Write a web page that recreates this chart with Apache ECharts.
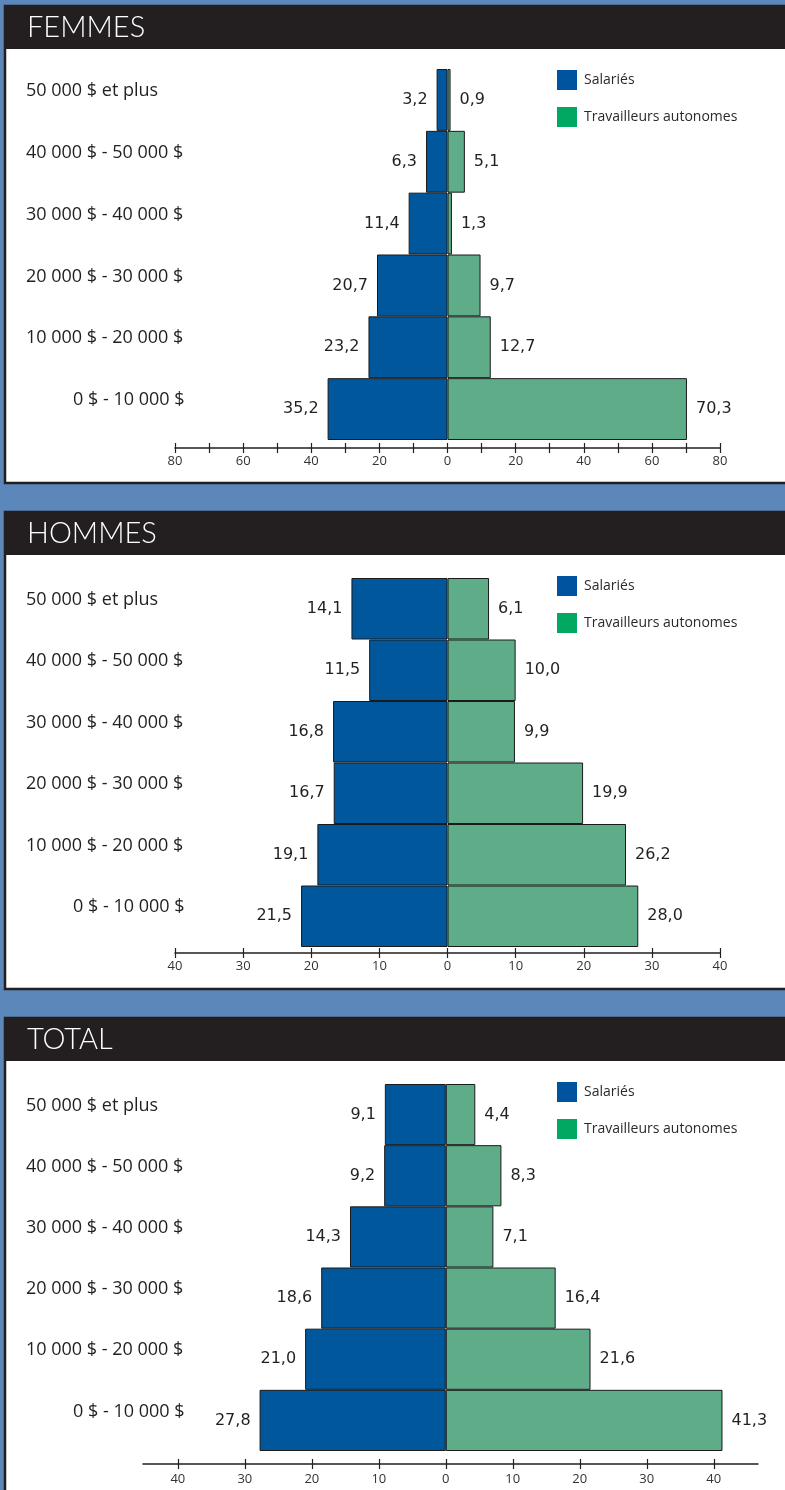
<!DOCTYPE html>
<html>
<head>
<meta charset="utf-8">
<script src="https://cdn.jsdelivr.net/npm/echarts@6/dist/echarts.min.js"></script>
<style>
  html, body { margin: 0; padding: 0; background: #5b87ba; }
  #chart { width: 785px; height: 1490px; }
</style>
</head>
<body>
<div id="chart"></div>
<script type="text/javascript">

    // tranches de revenu (de haut en bas)
    var categories = ['50 000 $ et plus', '40 000 $ - 50 000 $', '30 000 $ - 40 000 $',
                      '20 000 $ - 30 000 $', '10 000 $ - 20 000 $', '0 $ - 10 000 $'];
    var seriesNames = ['Salariés', 'Travailleurs autonomes'];
    var panelTitles = ['FEMMES', 'HOMMES', 'TOTAL'];

    // pourcentages
    var femmesSalaries  = [3.2, 6.3, 11.4, 20.7, 23.2, 35.2];
    var femmesAutonomes = [0.9, 5.1, 1.3, 9.7, 12.7, 70.3];
    var hommesSalaries  = [14.1, 11.5, 16.8, 16.7, 19.1, 21.5];
    var hommesAutonomes = [6.1, 10.0, 9.9, 19.9, 26.2, 28.0];
    var totalSalaries   = [9.1, 9.2, 14.3, 18.6, 21.0, 27.8];
    var totalAutonomes  = [4.4, 8.3, 7.1, 16.4, 21.6, 41.3];

    // graduations des axes
    var femmesTicks  = [-80, -70, -60, -50, -40, -30, -20, -10, 0, 10, 20, 30, 40, 50, 60, 70, 80];
    var femmesLabels = [-80, -60, -40, -20, 0, 20, 40, 60, 80];
    var hommesTicks  = [-40, -30, -20, -10, 0, 10, 20, 30, 40];
    var totalTicks   = [-40, -30, -20, -10, 0, 10, 20, 30, 40];

    var panels = [
        { top: 6,    sal: femmesSalaries, aut: femmesAutonomes, ticks: femmesTicks, labels: femmesLabels,
          min: -80, max: 80, left: 175, width: 545, gTop: 69, gH: 371, off: 8, lm: 7 },
        { top: 512,  sal: hommesSalaries, aut: hommesAutonomes, ticks: hommesTicks, labels: hommesTicks,
          min: -40, max: 40, left: 175, width: 545, gTop: 578, gH: 369, off: 6, lm: 7 },
        { top: 1018, sal: totalSalaries, aut: totalAutonomes, ticks: totalTicks, labels: totalTicks,
          min: -45.2, max: 46.6, left: 143, width: 615, gTop: 1084, gH: 367, off: 13, lm: 9 }
    ];

    var fmt = function (v) { return Math.abs(v).toFixed(1).replace('.', ','); };
    var dark = '#231f20';

    var option = {
        backgroundColor: '#5b87ba',
        animation: false,
        title: [], legend: [], grid: [], xAxis: [], yAxis: [], series: [], graphic: []
    };

    panels.forEach(function (p, i) {
        var bottom = (i === 2) ? 1500 : p.top + 477;
        // cadre blanc + bandeau noir
        option.graphic.push({
            type: 'rect', z: -5,
            shape: { x: 5, y: p.top, width: 800, height: bottom - p.top },
            style: { fill: '#ffffff', stroke: dark, lineWidth: 2.5 }
        });
        option.graphic.push({
            type: 'rect', z: -4,
            shape: { x: 4, y: p.top, width: 800, height: 43 },
            style: { fill: dark }
        });

        option.title.push({
            text: panelTitles[i],
            left: 27, top: p.top + 7, padding: 0,
            textStyle: { color: '#ffffff', fontSize: 29, fontWeight: 200,
                         fontFamily: '"Lato Light", "Roboto Light", Lato, Roboto' }
        });

        option.legend.push({
            data: [
                { name: seriesNames[0], itemStyle: { color: '#00539f', borderWidth: 0 } },
                { name: seriesNames[1], itemStyle: { color: '#00a862', borderWidth: 0 } }
            ],
            orient: 'vertical', left: 557, top: p.top + 64, padding: 0,
            icon: 'rect', itemWidth: 20, itemHeight: 20, itemGap: 17,
            selectedMode: false,
            textStyle: { fontSize: 14, color: '#2a2a2a', fontFamily: 'Open Sans', padding: [0, 0, 0, 2] }
        });

        option.grid.push({ left: p.left, top: p.gTop, width: p.width, height: p.gH });

        // axe principal (graduations vers le bas)
        option.xAxis.push({
            gridIndex: i, type: 'value', min: p.min, max: p.max,
            position: 'bottom', offset: p.off,
            axisLine: { show: true, onZero: false, lineStyle: { color: dark, width: 1.5 } },
            axisTick: { show: true, customValues: p.ticks, length: 5, lineStyle: { color: dark, width: 1.2 } },
            axisLabel: { customValues: p.labels, formatter: function (v) { return Math.abs(v); },
                         margin: p.lm, fontSize: 13, color: '#333', fontFamily: 'Open Sans' },
            splitLine: { show: false }
        });
        // même axe, graduations vers le haut
        option.xAxis.push({
            gridIndex: i, type: 'value', min: p.min, max: p.max,
            position: 'bottom', offset: p.off,
            axisLine: { show: false },
            axisTick: { show: true, inside: true, customValues: p.ticks, length: 5, lineStyle: { color: dark, width: 1.2 } },
            axisLabel: { show: false },
            splitLine: { show: false }
        });

        option.yAxis.push({
            gridIndex: i, type: 'category', data: categories, inverse: true,
            axisLine: { show: false, onZero: false }, axisTick: { show: false },
            axisLabel: {
                align: 'left', verticalAlign: 'bottom', lineHeight: 18,
                margin: p.left - 26, fontSize: 18, color: dark, fontFamily: 'Open Sans',
                formatter: function (v) { return v === categories[5] ? '{pad|' + v + '}' : v; },
                rich: { pad: { padding: [0, 0, 0, 47], fontSize: 18, lineHeight: 18, color: dark, fontFamily: 'Open Sans' } }
            }
        });

        var lbl = { show: true, distance: 9, fontSize: 16, color: dark, fontFamily: 'DejaVu Sans',
                    formatter: function (d) { return fmt(d.value); } };

        option.series.push({
            name: seriesNames[0], type: 'bar', xAxisIndex: i * 2, yAxisIndex: i,
            data: p.sal.map(function (v) { return -v; }),
            barGap: '-100%', barCategoryGap: '0%',
            itemStyle: { color: '#00579b', borderColor: '#1a1a1a', borderWidth: 1 },
            label: Object.assign({ position: 'left' }, lbl)
        });
        option.series.push({
            name: seriesNames[1], type: 'bar', xAxisIndex: i * 2, yAxisIndex: i,
            data: p.aut,
            barGap: '-100%', barCategoryGap: '0%',
            itemStyle: { color: '#5fac88', borderColor: '#1a1a1a', borderWidth: 1 },
            label: Object.assign({ position: 'right' }, lbl)
        });
    });

    var chart = echarts.init(document.getElementById('chart'));
    chart.setOption(option);
    window.onresize = chart.resize;

</script>
</body>
</html>
